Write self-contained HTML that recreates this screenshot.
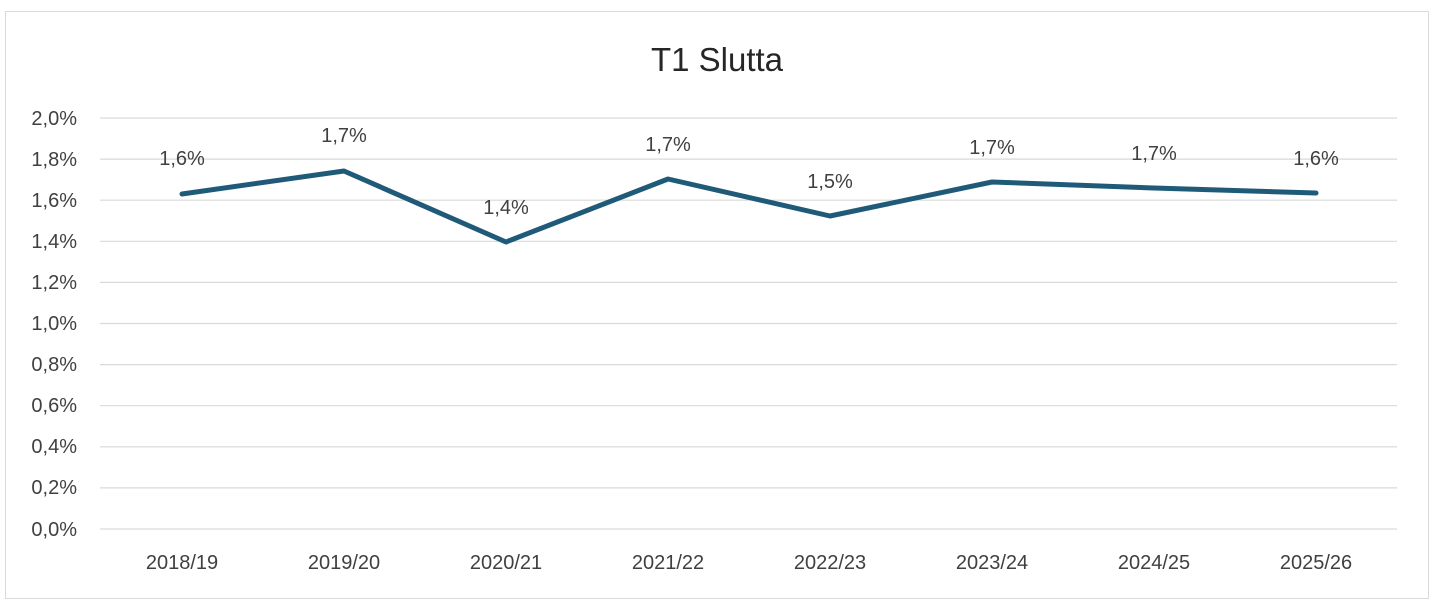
<!DOCTYPE html>
<html><head><meta charset="utf-8"><style>
body{margin:0;background:#fff;}
svg{display:block;font-family:"Liberation Sans",sans-serif;}
</style></head><body>
<svg width="1440" height="614" viewBox="0 0 1440 614">
<rect x="5.5" y="11.5" width="1423" height="587" fill="#fff" stroke="#d9d9d9" stroke-width="1"/>
<text x="717" y="71" text-anchor="middle" font-size="33" fill="#262626">T1 Slutta</text>
<g stroke="#d9d9d9" stroke-width="1.2">
<line x1="100" x2="1397" y1="118" y2="118"/>
<line x1="100" x2="1397" y1="159.1" y2="159.1"/>
<line x1="100" x2="1397" y1="200.2" y2="200.2"/>
<line x1="100" x2="1397" y1="241.3" y2="241.3"/>
<line x1="100" x2="1397" y1="282.4" y2="282.4"/>
<line x1="100" x2="1397" y1="323.5" y2="323.5"/>
<line x1="100" x2="1397" y1="364.6" y2="364.6"/>
<line x1="100" x2="1397" y1="405.7" y2="405.7"/>
<line x1="100" x2="1397" y1="446.8" y2="446.8"/>
<line x1="100" x2="1397" y1="487.9" y2="487.9"/>
<line x1="100" x2="1397" y1="529" y2="529"/>
</g>
<g font-size="20" fill="#404040" text-anchor="end">
<text x="77" y="125">2,0%</text>
<text x="77" y="166">1,8%</text>
<text x="77" y="207">1,6%</text>
<text x="77" y="248">1,4%</text>
<text x="77" y="289">1,2%</text>
<text x="77" y="330">1,0%</text>
<text x="77" y="371">0,8%</text>
<text x="77" y="412">0,6%</text>
<text x="77" y="453">0,4%</text>
<text x="77" y="494">0,2%</text>
<text x="77" y="536">0,0%</text>
</g>
<g font-size="20" fill="#404040" text-anchor="middle">
<text x="182" y="569">2018/19</text>
<text x="344" y="569">2019/20</text>
<text x="506" y="569">2020/21</text>
<text x="668" y="569">2021/22</text>
<text x="830" y="569">2022/23</text>
<text x="992" y="569">2023/24</text>
<text x="1154" y="569">2024/25</text>
<text x="1316" y="569">2025/26</text>
</g>
<polyline fill="none" stroke="#1f5b78" stroke-width="5" stroke-linejoin="round" stroke-linecap="round"
points="182,194 344,171 506,242 668,179 830,216 992,182 1154,188 1316,193"/>
<g font-size="20" fill="#404040" text-anchor="middle">
<text x="182" y="165">1,6%</text>
<text x="344" y="142">1,7%</text>
<text x="506" y="214">1,4%</text>
<text x="668" y="151">1,7%</text>
<text x="830" y="188">1,5%</text>
<text x="992" y="154">1,7%</text>
<text x="1154" y="160">1,7%</text>
<text x="1316" y="165">1,6%</text>
</g>
</svg>
</body></html>
